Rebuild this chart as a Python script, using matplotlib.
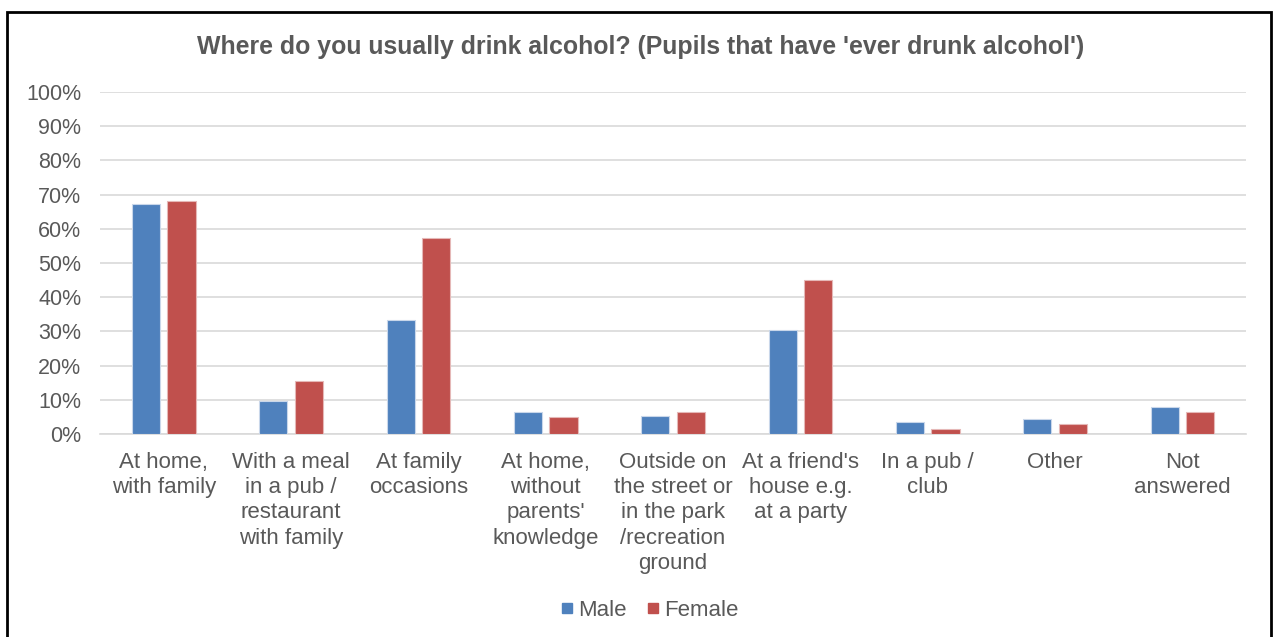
import matplotlib
matplotlib.use("Agg")
import matplotlib.pyplot as plt
import numpy as np
from matplotlib.lines import Line2D

categories = ["At home,\nwith family", "With a meal\nin a pub /\nrestaurant\nwith family",
              "At family\noccasions", "At home,\nwithout\nparents'\nknowledge",
              "Outside on\nthe street or\nin the park\n/recreation\nground",
              "At a friend's\nhouse e.g.\nat a party", "In a pub /\nclub", "Other", "Not\nanswered"]
male = [67.2, 9.6, 33.2, 6.3, 5.4, 30.3, 3.6, 4.3, 7.9]
female = [68.2, 15.5, 57.4, 5.0, 6.3, 44.9, 1.6, 2.9, 6.3]
series_names = ["Male", "Female"]
colors = ["#4F81BD", "#C0504D"]
title = "Where do you usually drink alcohol? (Pupils that have 'ever drunk alcohol')"

plt.rcParams['font.family'] = ['Liberation Sans', 'DejaVu Sans']
txt = "#595959"

fig = plt.figure(figsize=(12.76, 6.37), dpi=100)
ax = fig.add_axes([100/1276, 1-434/637, 1146/1276, (434-92)/637])

x = np.arange(len(categories))
w = 0.22
ax.bar(x - 0.14, male, w, color=colors[0], edgecolor="#C9D7EA", linewidth=0.8, zorder=3, label=series_names[0])
ax.bar(x + 0.14, female, w, color=colors[1], edgecolor="#E5B8B7", linewidth=0.8, zorder=3, label=series_names[1])

ax.set_xlim(-0.5, len(categories) - 0.5)
ax.set_ylim(0, 100)
ax.set_yticks(np.arange(0, 101, 10))
ax.set_yticklabels([f"{v}%" for v in range(0, 101, 10)], color=txt, fontsize=15.5)
ax.set_xticks(x)
ax.set_xticklabels(categories, color=txt, fontsize=16, linespacing=1.26, va="top")
ax.tick_params(axis="both", length=0)
ax.tick_params(axis="x", pad=13)
ax.tick_params(axis="y", pad=13.5)
ax.grid(axis="y", color="#D9D9D9", linewidth=1.2, zorder=0)
for s in ["top", "right", "left"]:
    ax.spines[s].set_visible(False)
ax.spines["bottom"].set_color("#D9D9D9")
ax.spines["bottom"].set_linewidth(1.2)

fig.text(641/1276, 1-47/637, title, ha="center", va="center", fontsize=17.9, fontweight="bold", color=txt)

handles = [Line2D([], [], marker="s", linestyle="none", markersize=7, color=c) for c in colors]
fig.legend(handles, series_names, loc="center", bbox_to_anchor=(647/1276, 1-610/637), ncol=2,
           frameon=False, fontsize=16, handletextpad=0.0, columnspacing=0.7, handlelength=1.0,
           labelcolor=txt)

# outer frame
fig.add_artist(plt.Rectangle((7/1276, -0.05), (1271-7)/1276, 1.05-12/637, transform=fig.transFigure,
                             fill=False, edgecolor="black", linewidth=2))

fig.savefig("out.png", dpi=100)
